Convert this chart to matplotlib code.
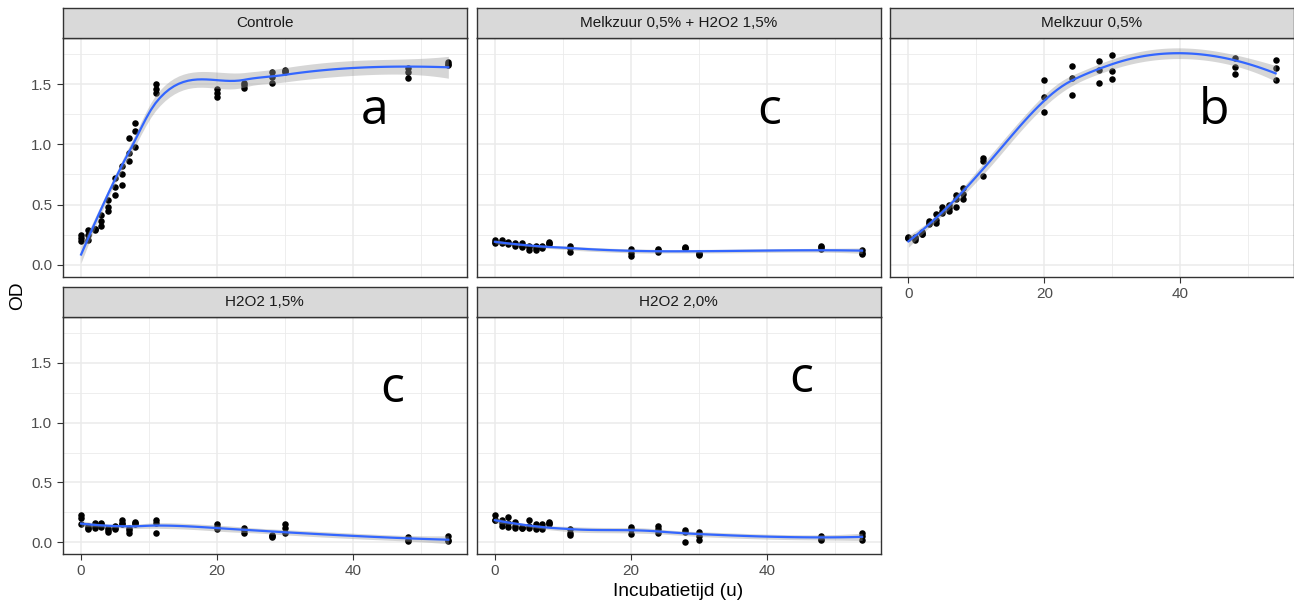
import matplotlib.pyplot as plt
import numpy as np

plt.rcParams['font.family'] = ['Liberation Sans', 'DejaVu Sans']

# incubation times (h), three replicates per condition
uren = [0, 1, 2, 3, 4, 5, 6, 7, 8, 11, 20, 24, 28, 30, 48, 54]

controle = [
    [0.25, 0.29, 0.30, 0.41, 0.54, 0.72, 0.82, 1.05, 1.18, 1.50, 1.46, 1.51, 1.60, 1.62, 1.63, 1.68],
    [0.22, 0.25, 0.30, 0.36, 0.48, 0.65, 0.75, 0.93, 1.11, 1.46, 1.43, 1.49, 1.56, 1.61, 1.60, 1.67],
    [0.20, 0.21, 0.29, 0.32, 0.45, 0.58, 0.66, 0.86, 0.98, 1.43, 1.39, 1.47, 1.51, 1.60, 1.55, 1.66],
]
melkzuur_h2o2 = [
    [0.21, 0.21, 0.19, 0.18, 0.18, 0.16, 0.16, 0.16, 0.19, 0.16, 0.13, 0.13, 0.15, 0.10, 0.16, 0.12],
    [0.19, 0.19, 0.18, 0.17, 0.16, 0.15, 0.14, 0.15, 0.18, 0.14, 0.10, 0.12, 0.14, 0.09, 0.15, 0.10],
    [0.18, 0.18, 0.17, 0.16, 0.15, 0.12, 0.12, 0.14, 0.17, 0.11, 0.07, 0.11, 0.14, 0.08, 0.13, 0.09],
]
melkzuur = [
    [0.23, 0.23, 0.27, 0.36, 0.42, 0.48, 0.50, 0.58, 0.64, 0.89, 1.53, 1.65, 1.69, 1.74, 1.72, 1.70],
    [0.22, 0.22, 0.26, 0.35, 0.37, 0.45, 0.47, 0.55, 0.59, 0.86, 1.39, 1.55, 1.62, 1.61, 1.64, 1.63],
    [0.22, 0.21, 0.26, 0.34, 0.35, 0.43, 0.45, 0.48, 0.55, 0.74, 1.27, 1.41, 1.51, 1.54, 1.58, 1.53],
]
h2o2_15 = [
    [0.23, 0.14, 0.16, 0.16, 0.12, 0.14, 0.19, 0.12, 0.17, 0.19, 0.15, 0.12, 0.06, 0.15, 0.04, 0.05],
    [0.20, 0.12, 0.14, 0.15, 0.10, 0.12, 0.16, 0.10, 0.16, 0.16, 0.13, 0.10, 0.05, 0.12, 0.02, 0.02],
    [0.15, 0.11, 0.12, 0.13, 0.09, 0.11, 0.15, 0.08, 0.15, 0.08, 0.11, 0.08, 0.04, 0.08, 0.01, 0.01],
]
h2o2_20 = [
    [0.23, 0.19, 0.21, 0.17, 0.13, 0.19, 0.15, 0.15, 0.17, 0.11, 0.13, 0.14, 0.10, 0.09, 0.05, 0.08],
    [0.19, 0.16, 0.16, 0.14, 0.12, 0.14, 0.13, 0.13, 0.16, 0.08, 0.11, 0.11, 0.09, 0.05, 0.03, 0.05],
    [0.19, 0.14, 0.13, 0.12, 0.12, 0.12, 0.11, 0.11, 0.15, 0.06, 0.07, 0.08, 0.00, 0.02, 0.02, 0.02],
]

titels = ['Controle', 'Melkzuur 0,5% + H2O2 1,5%', 'Melkzuur 0,5%', 'H2O2 1,5%', 'H2O2 2,0%']
reeksen = [controle, melkzuur_h2o2, melkzuur, h2o2_15, h2o2_20]
letters = ['a', 'c', 'b', 'c', 'c']


def loess(x, y, grid, span=0.75, cell=0.2):
    # 1-D version of R's loess (degree 2, tricube weights, kd-tree
    # vertices + cubic Hermite interpolation), with standard errors
    order = np.argsort(x, kind='stable')
    x = x[order]
    y = y[order]
    n = len(x)
    q = int(np.floor(n * span))
    fc = int(np.floor(n * span * cell))

    def lokaal(x0):
        d = np.abs(x - x0)
        h = np.sort(d)[q - 1]
        u = d / h
        w = np.where(u < 1, (1 - u**3)**3, 0)
        X = np.column_stack([np.ones(n), x - x0, (x - x0)**2])
        XtW = X.T * w
        B = np.linalg.solve(XtW @ X, XtW)
        return B[0], B[1]          # operator rows for value and slope

    marge = 0.005 * (x.max() - x.min())
    verts = {x.min() - marge, x.max() + marge}

    def splits(l, u, lo, hi):
        if u - l + 1 <= fc:
            return
        m = (l + u) // 2
        off = 0
        while True:
            k = m + off
            if k >= u or k < l:
                break
            if x[k] == x[k + 1]:
                off = -off
                if off >= 0:
                    off += 1
            else:
                m = k
                break
        t = x[m]
        if t == lo or t == hi:
            return
        verts.add(t)
        splits(l, m, lo, t)
        splits(m + 1, u, t, hi)

    splits(0, n - 1, x.min() - marge, x.max() + marge)
    v = np.array(sorted(verts))
    rows = [lokaal(vi) for vi in v]

    def operator(pts):
        out = []
        for p in pts:
            j = min(max(np.searchsorted(v, p) - 1, 0), len(v) - 2)
            h = v[j + 1] - v[j]
            t = (p - v[j]) / h
            h00 = 2 * t**3 - 3 * t**2 + 1
            h10 = t**3 - 2 * t**2 + t
            h01 = -2 * t**3 + 3 * t**2
            h11 = t**3 - t**2
            out.append(h00 * rows[j][0] + h10 * h * rows[j][1]
                       + h01 * rows[j + 1][0] + h11 * h * rows[j + 1][1])
        return np.array(out)

    L = operator(x)
    IL = np.eye(n) - L
    M = IL.T @ IL
    d1 = np.trace(M)
    d2 = np.trace(M @ M)
    sigma = np.sqrt(np.sum((IL @ y)**2) / d1)
    df = d1**2 / d2
    z = 1.959964
    tq = z + (z**3 + z) / (4 * df) + (5 * z**5 + 16 * z**3 + 3 * z) / (96 * df**2)
    G = operator(grid)
    fit = G @ y
    se = sigma * np.sqrt(np.sum(G**2, axis=1))
    return fit, fit - tq * se, fit + tq * se


W, H = 1294, 604
fig = plt.figure(figsize=(W / 100, H / 100), dpi=100)

links = [62.7, 476.5, 890.0]
breedte = 404.0
onder = [276.7, 554.0]     # panel bottom (px from top)
hoogte = [239.0, 237.3]
strip_h = 29.5
letter_pos = [(43.2, 1.165), (40.4, 1.165), (44.9, 1.165), (45.7, 1.171), (45.1, 1.254)]

grid_x = np.linspace(0, 54, 80)

for i, (titel, reeks) in enumerate(zip(titels, reeksen)):
    r, c = divmod(i, 3)
    left = links[c] / W
    bottom = 1 - onder[r] / H
    ax = fig.add_axes([left, bottom, breedte / W, hoogte[r] / H])

    x = np.tile(np.array(uren, float), 3)
    y = np.concatenate([np.array(v, float) for v in reeks])
    ax.scatter(x, y, s=22, color='black', linewidths=0, zorder=2)

    fit, lo, hi = loess(x, y, grid_x)
    ax.fill_between(grid_x, lo, hi, color='#999999', alpha=0.4, linewidth=0, zorder=3)
    ax.plot(grid_x, fit, color='#3366FF', lw=1.6, zorder=4)

    ax.text(letter_pos[i][0], letter_pos[i][1], letters[i], fontsize=36,
            family='Open Sans', ha='center', va='baseline', color='black', zorder=5)

    ax.set_xlim(-2.7, 56.7)
    ax.set_ylim(-0.098, 1.885)
    ax.set_xticks([0, 20, 40])
    ax.set_xticks([10, 30, 50], minor=True)
    ax.set_yticks([0, 0.5, 1.0, 1.5])
    ax.set_yticks([0.25, 0.75, 1.25, 1.75], minor=True)
    ax.set_yticklabels(['0.0', '0.5', '1.0', '1.5'])
    ax.grid(which='major', color='#EBEBEB', lw=1.1, zorder=0)
    ax.grid(which='minor', color='#EBEBEB', lw=0.6, zorder=0)
    ax.set_axisbelow(True)
    ax.tick_params(which='minor', length=0)
    ax.tick_params(which='major', length=4.5, width=0.8, color='#333333',
                   labelsize=11, labelcolor='#4D4D4D', pad=3)
    if c != 0:
        ax.tick_params(axis='y', left=False, labelleft=False)
    if r == 0 and c != 2:
        ax.tick_params(axis='x', bottom=False, labelbottom=False)
    for sp in ax.spines.values():
        sp.set_color('#333333')
        sp.set_linewidth(1.0)

    # facet strip
    sa = fig.add_axes([left, bottom + hoogte[r] / H, breedte / W, strip_h / H])
    sa.set_facecolor('#D9D9D9')
    sa.set_xticks([])
    sa.set_yticks([])
    for sp in sa.spines.values():
        sp.set_color('#333333')
        sp.set_linewidth(1.0)
    sa.text(0.5, 0.5, titel, ha='center', va='center', fontsize=11,
            color='#1A1A1A', transform=sa.transAxes)

fig.text(17.5 / W, 1 - 296 / H, 'OD', rotation=90, ha='center', va='center', fontsize=13.8)
fig.text(678 / W, 1 - 592 / H, 'Incubatietijd (u)', ha='center', va='center', fontsize=13.8)

fig.savefig('out.png', dpi=100)
